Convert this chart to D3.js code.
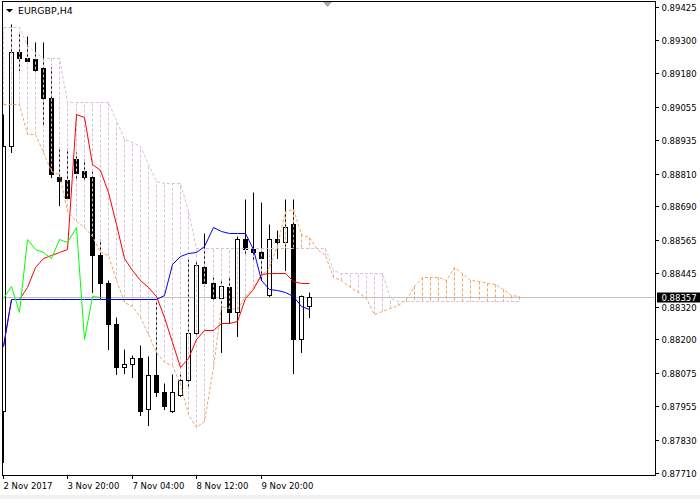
<!DOCTYPE html>
<html><head><meta charset="utf-8">
<script src="https://cdn.jsdelivr.net/npm/d3@7"></script>
<style>html,body{margin:0;padding:0;background:#fff;overflow:hidden}</style>
</head><body>
<svg id="c" width="700" height="499"></svg>
<script>
// ---- data (EURGBP H4) ----
const symbolTitle = "EURGBP,H4";
const lastPrice = 0.88357;
const openP  = [0.87935,0.88910,0.89256,0.89237,0.89230,0.89197,0.89090,0.88799,0.88788,0.88862,0.88818,0.88799,0.88512,0.88409,0.88255,0.88097,0.88111,0.88130,0.87942,0.88067,0.88008,0.87935,0.87997,0.88052,0.88225,0.88468,0.88406,0.88354,0.88391,0.88299,0.88568,0.88531,0.88520,0.88365,0.88571,0.88557,0.88623,0.88200,0.88321];
const highP  = [0.89028,0.89359,0.89329,0.89315,0.89296,0.89296,0.89204,0.88906,0.88906,0.88888,0.88862,0.88818,0.88568,0.88420,0.88281,0.88163,0.88144,0.88181,0.88137,0.88336,0.88041,0.88071,0.88071,0.88494,0.88487,0.88593,0.88431,0.88420,0.88428,0.88582,0.88715,0.88741,0.88704,0.88623,0.88604,0.88715,0.88715,0.88365,0.88373];
const lowP   = [0.87747,0.88888,0.89193,0.89223,0.89186,0.88991,0.88799,0.88696,0.88715,0.88788,0.88781,0.88373,0.88354,0.88163,0.88071,0.88078,0.88063,0.87920,0.87883,0.87990,0.87942,0.87931,0.87990,0.88027,0.88218,0.88395,0.88347,0.88152,0.88262,0.88211,0.88512,0.88487,0.88420,0.88358,0.88501,0.88457,0.88078,0.88155,0.88284];
const closeP = [0.88910,0.89256,0.89237,0.89226,0.89193,0.89090,0.88807,0.88781,0.88722,0.88814,0.88799,0.88512,0.88409,0.88255,0.88100,0.88108,0.88130,0.87935,0.88067,0.88008,0.87953,0.88005,0.88052,0.88222,0.88472,0.88406,0.88354,0.88395,0.88299,0.88568,0.88531,0.88520,0.88501,0.88571,0.88557,0.88615,0.88200,0.88358,0.88357];
const tenkan = [0.88174,0.88347,0.88347,0.88391,0.88468,0.88501,0.88512,0.88520,0.88531,0.89028,0.89017,0.88844,0.88825,0.88744,0.88623,0.88501,0.88457,0.88420,0.88391,0.88358,0.88281,0.88192,0.88100,0.88133,0.88200,0.88236,0.88236,0.88262,0.88262,0.88266,0.88354,0.88384,0.88439,0.88446,0.88446,0.88446,0.88413,0.88409,0.88409];
const kijun  = [0.88174,0.88347,0.88347,0.88347,0.88347,0.88347,0.88347,0.88347,0.88347,0.88347,0.88347,0.88347,0.88347,0.88347,0.88347,0.88347,0.88347,0.88347,0.88347,0.88347,0.88365,0.88476,0.88505,0.88516,0.88520,0.88542,0.88615,0.88597,0.88593,0.88593,0.88590,0.88531,0.88420,0.88384,0.88380,0.88376,0.88361,0.88321,0.88310];
const chikou = [0.88354,0.88395,0.88299,0.88568,0.88531,0.88520,0.88501,0.88571,0.88557,0.88615,0.88200,0.88358,0.88357];
const spanA  = [0.89068,0.89068,0.89068,0.88954,0.88954,0.88891,0.88818,0.88807,0.88671,0.88634,0.88612,0.88582,0.88520,0.88509,0.88420,0.88336,0.88321,0.88281,0.88218,0.88152,0.88115,0.88104,0.88034,0.87924,0.87876,0.87898,0.88097,0.88321,0.88317,0.88310,0.88361,0.88391,0.88435,0.88465,0.88549,0.88674,0.88678,0.88586,0.88575,0.88531,0.88512,0.88431,0.88420,0.88391,0.88376,0.88354,0.88295,0.88303,0.88314,0.88328,0.88350,0.88395,0.88428,0.88428,0.88428,0.88417,0.88468,0.88446,0.88420,0.88413,0.88409,0.88402,0.88384,0.88365,0.88358];
const spanB  = [0.89348,0.89348,0.89348,0.89285,0.89259,0.89234,0.89234,0.89234,0.89072,0.89072,0.89072,0.89072,0.89072,0.89072,0.89009,0.88936,0.88925,0.88910,0.88844,0.88781,0.88777,0.88777,0.88777,0.88671,0.88538,0.88538,0.88538,0.88538,0.88538,0.88538,0.88538,0.88538,0.88538,0.88538,0.88538,0.88538,0.88538,0.88538,0.88538,0.88538,0.88538,0.88457,0.88446,0.88446,0.88446,0.88446,0.88446,0.88446,0.88354,0.88343,0.88343,0.88343,0.88343,0.88343,0.88343,0.88343,0.88343,0.88343,0.88343,0.88343,0.88343,0.88343,0.88343,0.88343,0.88343];
const priceTicks = [0.89425,0.89300,0.89180,0.89055,0.88935,0.88810,0.88690,0.88565,0.88445,0.88320,0.88200,0.88075,0.87955,0.87830,0.87710];
const timeLabels = ["2 Nov 2017","3 Nov 20:00","7 Nov 04:00","8 Nov 12:00","9 Nov 20:00"];
const timeLabelBars = [0,8,16,24,32];

// ---- layout ----
const svg = d3.select("#c");
const FONT = "'DejaVu Sans', Verdana, sans-serif";
const plot = {left:2.5, right:655.5, top:1.5, bottom:475.5};
const x = d3.scaleLinear().domain([0, 64]).range([3.5, 519.3]);
const y = d3.scaleLinear().domain([0.87710, 0.89425]).range([473, 7]);
const px = i => Math.floor(x(i)) + 0.5;
const py = v => Math.floor(y(v)) + 0.5;

svg.append("rect").attr("width",700).attr("height",499).attr("fill","#fff");
svg.append("rect").attr("x",0).attr("y",495).attr("width",700).attr("height",4).attr("fill","#f0f0f0");

svg.append("defs").append("clipPath").attr("id","clip")
  .append("rect").attr("x",3).attr("y",2).attr("width",652).attr("height",473);
const g = svg.append("g").attr("clip-path","url(#clip)");

// bid line
g.append("line").attr("x1",3).attr("x2",655).attr("y1",py(lastPrice)).attr("y2",py(lastPrice))
  .attr("stroke","#c0c0c0").attr("stroke-width",1);

// candles
const idx = d3.range(openP.length);
const cg = g.append("g");
cg.selectAll("line.w").data(idx).join("line").attr("class","w")
  .attr("x1",i=>px(i)).attr("x2",i=>px(i))
  .attr("y1",i=>py(highP[i])).attr("y2",i=>py(lowP[i])+0.5)
  .attr("stroke","#000").attr("stroke-width",1);
cg.selectAll("rect.b").data(idx).join("rect").attr("class","b")
  .attr("x",i=>px(i)-2).attr("width",4)
  .attr("y",i=>Math.min(py(openP[i]),py(closeP[i])))
  .attr("height",i=>Math.max(1,Math.abs(py(openP[i])-py(closeP[i]))))
  .attr("fill",i=>closeP[i]>=openP[i]?"#fff":"#000")
  .attr("stroke","#000").attr("stroke-width",1);

// cloud histogram (dotted verticals)
const SANDY = "#F4A460", THISTLE = "#D8BFD8";
const cloudIdx = d3.range(spanA.length);
g.append("g").selectAll("line").data(cloudIdx).join("line")
  .attr("x1",i=>px(i)).attr("x2",i=>px(i))
  .attr("y1",i=>py(spanA[i])).attr("y2",i=>py(spanB[i]))
  .attr("stroke",i=>spanA[i]>=spanB[i]?SANDY:THISTLE)
  .attr("stroke-width",1).attr("stroke-dasharray","3,2");

const line = d3.line().x((d,i)=>px(i)).y(d=>py(d));
g.append("path").attr("d",line(spanA)).attr("fill","none").attr("stroke",SANDY).attr("stroke-width",1).attr("stroke-dasharray","3,2");
g.append("path").attr("d",line(spanB)).attr("fill","none").attr("stroke",THISTLE).attr("stroke-width",1).attr("stroke-dasharray","3,2");
g.append("path").attr("d",line(tenkan)).attr("fill","none").attr("stroke","#ff0000").attr("stroke-width",1);
g.append("path").attr("d",line(kijun)).attr("fill","none").attr("stroke","#0000ff").attr("stroke-width",1);
g.append("path").attr("d",line(chikou)).attr("fill","none").attr("stroke","#00ff00").attr("stroke-width",1);

// frame
svg.append("rect").attr("x",plot.left).attr("y",plot.top)
  .attr("width",plot.right-plot.left).attr("height",plot.bottom-plot.top)
  .attr("fill","none").attr("stroke","#000").attr("stroke-width",1);

// price axis
const fmt = d3.format(".5f");
const ya = svg.append("g");
priceTicks.forEach(v=>{
  const yy = py(v);
  ya.append("line").attr("x1",656).attr("x2",659).attr("y1",yy).attr("y2",yy).attr("stroke","#000");
  ya.append("text").attr("x",661.5).attr("y",yy).attr("dy","0.36em")
    .attr("font-family",FONT).attr("font-size",8.5).attr("fill","#000").text(fmt(v));
});
// last price label
const ly = py(lastPrice);
ya.append("rect").attr("x",657).attr("y",ly-5).attr("width",43).attr("height",10).attr("fill","#000");
ya.append("text").attr("x",661.5).attr("y",ly).attr("dy","0.36em")
  .attr("font-family",FONT).attr("font-size",8.5).attr("fill","#fff").text(fmt(lastPrice));

// time axis
const xa = svg.append("g");
timeLabelBars.forEach((b,k)=>{
  const xx = px(b);
  xa.append("line").attr("x1",xx).attr("x2",xx).attr("y1",476).attr("y2",479).attr("stroke","#000");
  xa.append("text").attr("x",xx).attr("y",489)
    .attr("font-family",FONT).attr("font-size",8.5).attr("fill","#000").text(timeLabels[k]);
});

// title
svg.append("path").attr("d","M6,9 L13,9 L9.5,12.5 Z").attr("fill","#000");
svg.append("text").attr("x",18).attr("y",13.5).attr("font-family",FONT).attr("font-size",9.4)
  .attr("fill","#000").text(symbolTitle);
// chart shift marker
svg.append("path").attr("d","M323,2 L332,2 L327.5,7 Z").attr("fill","#a8a8a8");
</script>
</body></html>
